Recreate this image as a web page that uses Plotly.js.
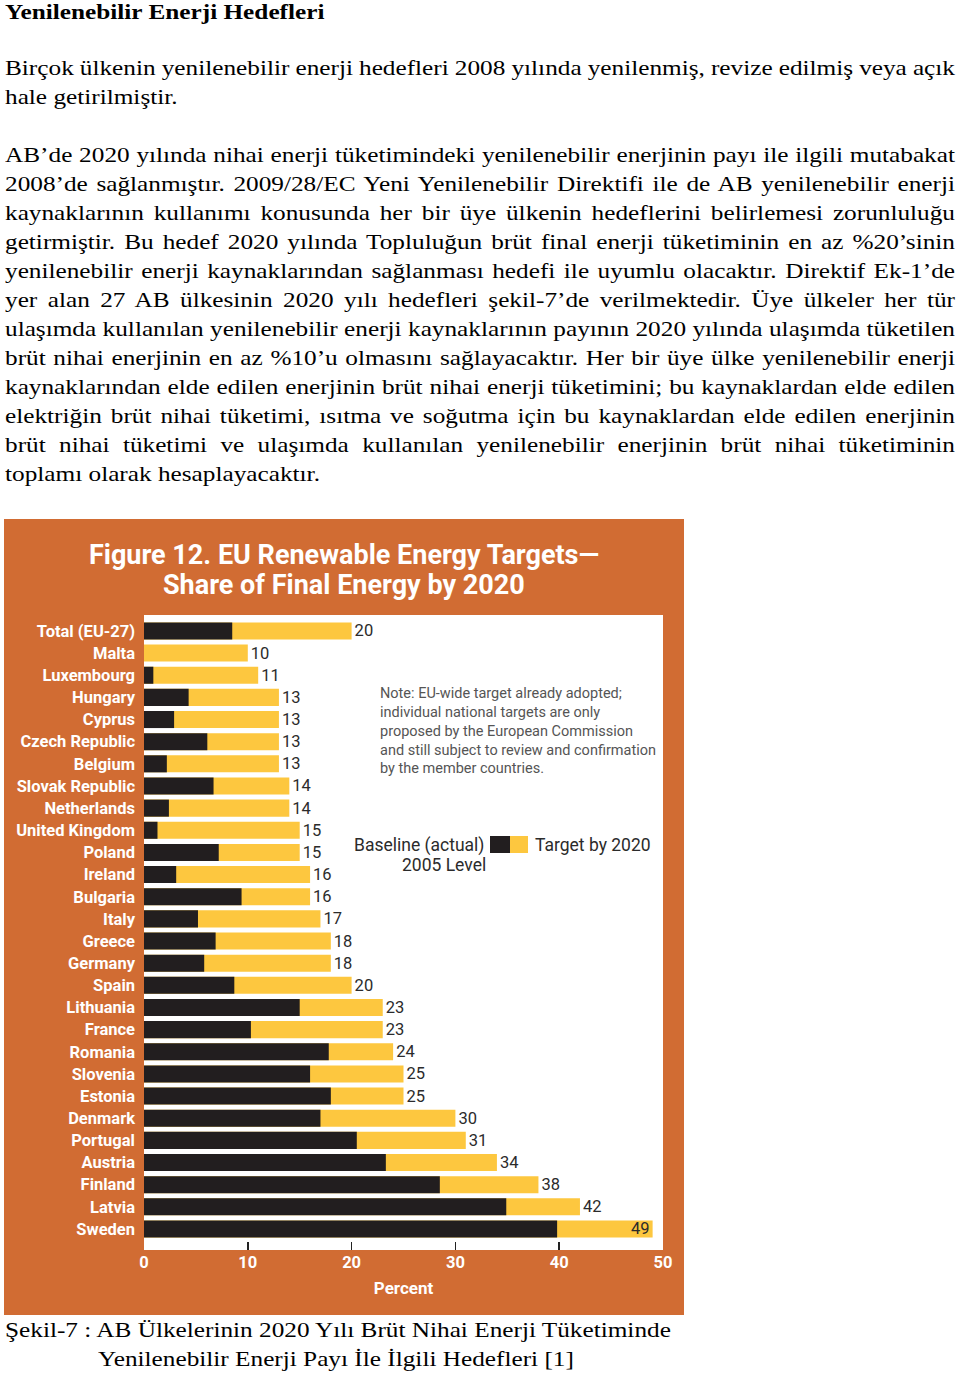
<!DOCTYPE html>
<html>
<head>
<meta charset="utf-8">
<script src="https://cdn.plot.ly/plotly-3.0.1.min.js"></script>
<style>
  html, body { margin: 0; padding: 0; background: #ffffff; }
  #page { position: relative; width: 960px; height: 1375px; overflow: hidden; }
  .txt { position: absolute; left: 5px; width: 808.5px; font-family: 'Liberation Serif', 'Times New Roman', serif;
         font-size: 21.5px; line-height: 29px; color: #000; white-space: nowrap;
         transform: scaleX(1.175); transform-origin: 0 0; }
  .j { text-align: justify; text-align-last: justify; white-space: nowrap; word-spacing: -3px; }
  .h { font-weight: bold; }
  #chart { position: absolute; left: 4px; top: 519px; width: 680px; height: 796px; }
</style>
</head>
<body>
<div id="page">
  <div class="txt h" style="top:-2px;">Yenilenebilir Enerji Hedefleri</div>

  <div class="txt j" style="top:54px;">Birçok ülkenin yenilenebilir enerji hedefleri 2008 yılında yenilenmiş, revize edilmiş veya açık</div>
  <div class="txt" style="top:83px;">hale getirilmiştir.</div>

  <div class="txt j" style="top:141px;">AB’de 2020 yılında nihai enerji tüketimindeki yenilenebilir enerjinin payı ile ilgili mutabakat</div>
  <div class="txt j" style="top:170px;">2008’de sağlanmıştır. 2009/28/EC Yeni Yenilenebilir Direktifi ile de AB yenilenebilir enerji</div>
  <div class="txt j" style="top:199px;">kaynaklarının kullanımı konusunda her bir üye ülkenin hedeflerini belirlemesi zorunluluğu</div>
  <div class="txt j" style="top:228px;">getirmiştir. Bu hedef 2020 yılında Topluluğun brüt final enerji tüketiminin en az %20’sinin</div>
  <div class="txt j" style="top:257px;">yenilenebilir enerji kaynaklarından sağlanması hedefi ile uyumlu olacaktır. Direktif Ek-1’de</div>
  <div class="txt j" style="top:286px;">yer alan 27 AB ülkesinin 2020 yılı hedefleri şekil-7’de verilmektedir. Üye ülkeler her tür</div>
  <div class="txt j" style="top:315px;">ulaşımda kullanılan yenilenebilir enerji kaynaklarının payının 2020 yılında ulaşımda tüketilen</div>
  <div class="txt j" style="top:344px;">brüt nihai enerjinin en az %10’u olmasını sağlayacaktır. Her bir üye ülke yenilenebilir enerji</div>
  <div class="txt j" style="top:373px;">kaynaklarından elde edilen enerjinin brüt nihai enerji tüketimini; bu kaynaklardan elde edilen</div>
  <div class="txt j" style="top:402px;">elektriğin brüt nihai tüketimi, ısıtma ve soğutma için bu kaynaklardan elde edilen enerjinin</div>
  <div class="txt j" style="top:431px;">brüt nihai tüketimi ve ulaşımda kullanılan yenilenebilir enerjinin brüt nihai tüketiminin</div>
  <div class="txt" style="top:460px;">toplamı olarak hesaplayacaktır.</div>

  <div id="chart"></div>

  <div class="txt" style="top:1316px;">Şekil-7 : AB Ülkelerinin 2020 Yılı Brüt Nihai Enerji Tüketiminde</div>
  <div class="txt" style="top:1345px; left:98px;">Yenilenebilir Enerji Payı İle İlgili Hedefleri [1]</div>
</div>

<script>
// ---- data ----
const countries = ["Total (EU-27)","Malta","Luxembourg","Hungary","Cyprus","Czech Republic","Belgium",
  "Slovak Republic","Netherlands","United Kingdom","Poland","Ireland","Bulgaria","Italy","Greece",
  "Germany","Spain","Lithuania","France","Romania","Slovenia","Estonia","Denmark","Portugal",
  "Austria","Finland","Latvia","Sweden"];
const baseline2005 = [8.5,0,0.9,4.3,2.9,6.1,2.2,6.7,2.4,1.3,7.2,3.1,9.4,5.2,6.9,5.8,8.7,15.0,10.3,
  17.8,16.0,18.0,17.0,20.5,23.3,28.5,34.9,39.8];
const target2020 = [20,10,11,13,13,13,13,14,14,15,15,16,16,17,18,18,20,23,23,24,25,25,30,31,34,38,42,49];
const xTicks = [0,10,20,30,40,50];

const titleLine1 = "Figure 12. EU Renewable Energy Targets—";
const titleLine2 = "Share of Final Energy by 2020";
const noteText = "Note: EU-wide target already adopted;<br>individual national targets are only<br>proposed by the European Commission<br>and still subject to review and confirmation<br>by the member countries.";

// ---- style ----
const ORANGE = "rgb(209,108,51)";
const YELLOW = "#FDC73F";
const BLACK = "#221E1F";
const SANS = "Roboto, 'Liberation Sans', Arial, sans-serif";

const textPos = target2020.map(v => v >= 45 ? "inside" : "outside");

const traces = [
  {
    type: "bar", orientation: "h", name: "Target by 2020",
    y: countries, x: target2020, width: 0.77,
    marker: {color: YELLOW, line: {width: 0}},
    text: target2020.map(String), textposition: textPos,
    insidetextanchor: "end", constraintext: "none", cliponaxis: false, textangle: 0,
    textfont: {family: SANS, size: 16.5, color: "#2b2b2b"},
    insidetextfont: {family: SANS, size: 16.5, color: "#2b2b2b"},
    outsidetextfont: {family: SANS, size: 16.5, color: "#2b2b2b"},
    hoverinfo: "x+y", showlegend: false
  },
  {
    type: "bar", orientation: "h", name: "Baseline (actual) 2005 Level",
    y: countries, x: baseline2005, width: 0.77,
    marker: {color: BLACK, line: {width: 0}},
    hoverinfo: "x+y", showlegend: false
  }
];

const layout = {
  width: 680, height: 796,
  paper_bgcolor: ORANGE, plot_bgcolor: "#ffffff",
  margin: {l: 140, r: 21, t: 96, b: 65},
  barmode: "overlay",
  title: {text: titleLine1, xref: "container", x: 0.5, xanchor: "center",
          yref: "container", y: 1 - 36/796, yanchor: "middle",
          font: {family: SANS, size: 27, color: "#ffffff", weight: "bold"}},
  xaxis: {
    range: [0, 50], tickmode: "array", tickvals: xTicks, ticktext: xTicks.map(String),
    ticks: "inside", ticklen: 8, tickwidth: 1.5, tickcolor: "#222",
    showgrid: false, zeroline: false, showline: false,
    tickfont: {family: SANS, size: 16.5, color: "#ffffff", weight: "bold"},
    title: {text: "Percent", standoff: 11, font: {family: SANS, size: 17, color: "#ffffff", weight: "bold"}},
    fixedrange: true
  },
  yaxis: {
    type: "category", range: [27.95, -0.72], autorange: false,
    tickmode: "array", tickvals: countries, ticktext: countries,
    showgrid: false, zeroline: false, showline: false, ticks: "",
    ticklabelstandoff: 8,
    tickfont: {family: SANS, size: 16.5, color: "#ffffff", weight: "bold"},
    fixedrange: true
  },
  annotations: [
    {text: titleLine2, xref: "paper", yref: "paper", x: (344-144)/519, y: (1250-585)/635,
     xanchor: "center", yanchor: "middle", showarrow: false,
     font: {family: SANS, size: 27, color: "#ffffff", weight: "bold"}},
    {text: noteText, xref: "paper", yref: "paper", x: 0.451, y: 0.893, xanchor: "left", yanchor: "top",
     align: "left", showarrow: false,
     font: {family: SANS, size: 14.5, color: "#555555"}},
    {text: "Baseline (actual)", xref: "paper", yref: "paper", x: (486-144)/519, y: (1250-845)/635,
     xanchor: "right", yanchor: "middle", showarrow: false,
     font: {family: SANS, size: 17.5, color: "#2b2b2b"}},
    {text: "2005 Level", xref: "paper", yref: "paper", x: (444-144)/519, y: (1250-865)/635,
     xanchor: "center", yanchor: "middle", showarrow: false,
     font: {family: SANS, size: 17.5, color: "#2b2b2b"}},
    {text: "Target by 2020", xref: "paper", yref: "paper", x: (533-144)/519, y: (1250-845)/635,
     xanchor: "left", yanchor: "middle", showarrow: false,
     font: {family: SANS, size: 17.5, color: "#2b2b2b"}}
  ],
  shapes: [
    {type: "rect", xref: "paper", yref: "paper", x0: (490-144)/519, x1: (510-144)/519,
     y0: (1250-853)/635, y1: (1250-836)/635, fillcolor: BLACK, line: {width: 0}},
    {type: "rect", xref: "paper", yref: "paper", x0: (510-144)/519, x1: (528-144)/519,
     y0: (1250-853)/635, y1: (1250-836)/635, fillcolor: YELLOW, line: {width: 0}}
  ],
  showlegend: false
};

Plotly.newPlot("chart", traces, layout, {displayModeBar: false, staticPlot: true});
</script>
</body>
</html>
